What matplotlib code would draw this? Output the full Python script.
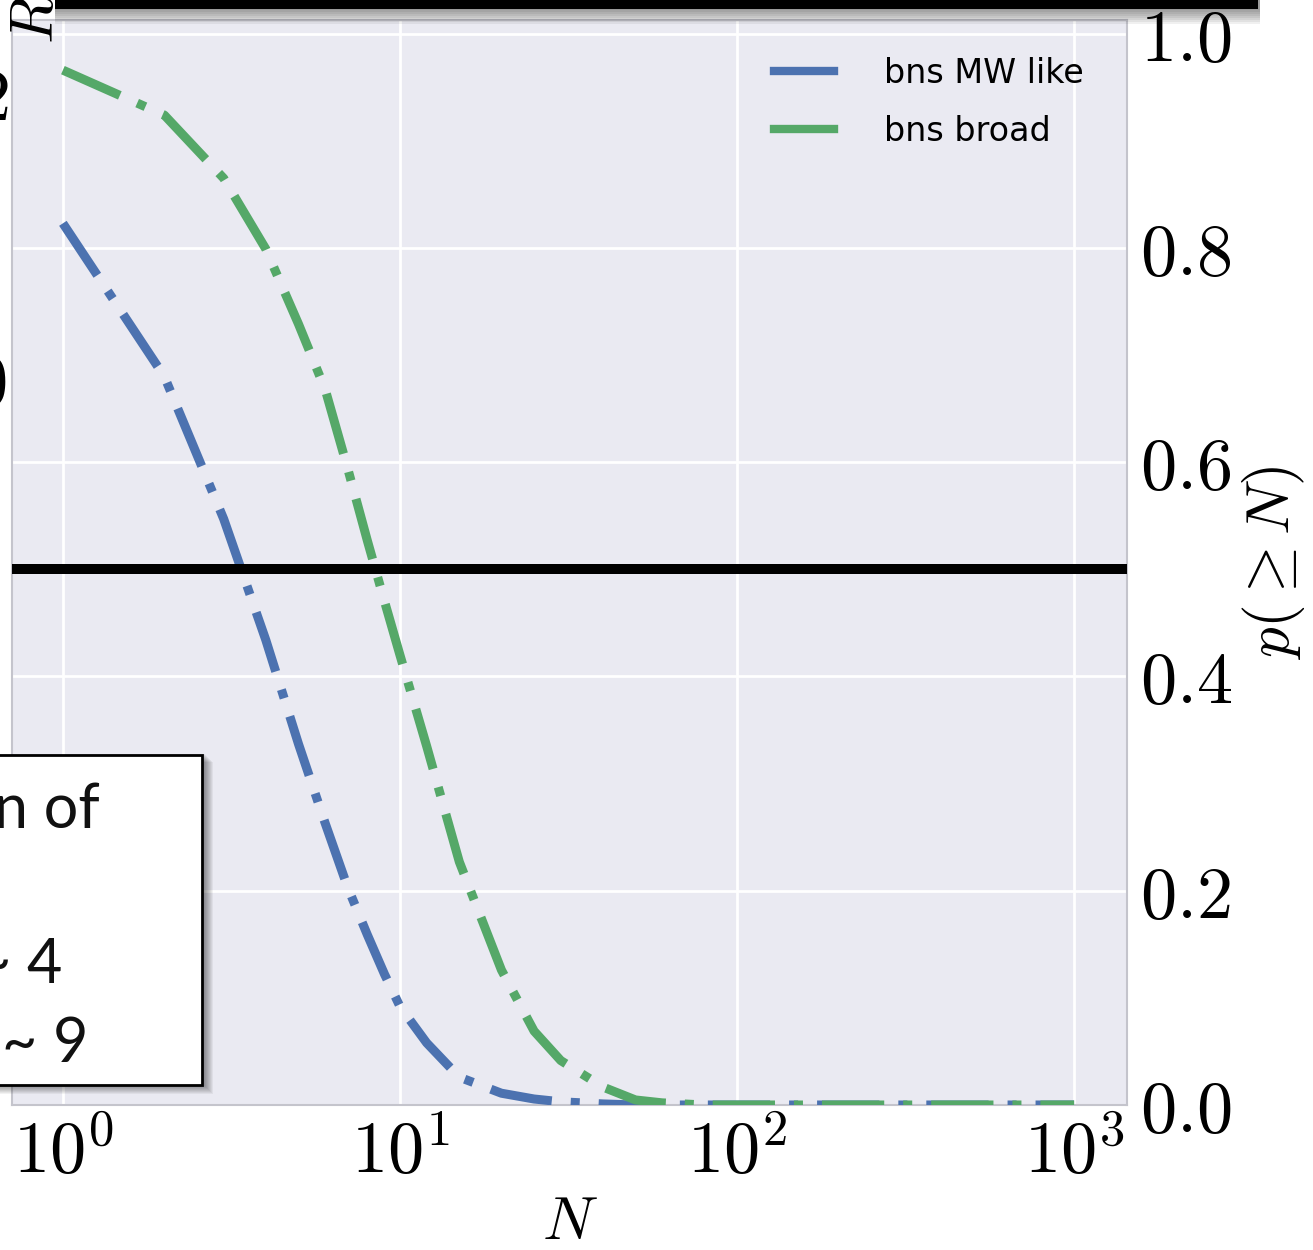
import numpy as np
import matplotlib
matplotlib.use("Agg")
import matplotlib.pyplot as plt
from matplotlib.lines import Line2D
from matplotlib.patches import Rectangle
from matplotlib.ticker import FuncFormatter, FixedLocator

plt.rcParams['mathtext.fontset'] = 'cm'

# values
n_values = [1, 2, 3, 4, 5, 6, 7, 8, 9, 10, 12, 15, 20, 25, 30, 40, 50, 60, 80, 100, 200, 500, 1000]
p_mw_like = [0.823, 0.680, 0.547, 0.434, 0.337, 0.263, 0.203, 0.159, 0.122, 0.092,
             0.058, 0.026, 0.011, 0.0056, 0.003, 0.001, 0.0, 0.0, 0.0, 0.0, 0.0, 0.0, 0.0]
p_broad = [0.966, 0.924, 0.865, 0.799, 0.729, 0.668, 0.594, 0.527, 0.470, 0.420,
           0.335, 0.227, 0.126, 0.069, 0.0415, 0.0168, 0.0047, 0.002, 0.0, 0.0, 0.0, 0.0, 0.0]
threshold = 0.5
labels = ['bns MW like', 'bns broad']
colors = ['#4C72B0', '#55A868']
x_ticks = [1, 10, 100, 1000]
y_ticks = [0.0, 0.2, 0.4, 0.6, 0.8, 1.0]

W, H = 1313, 1250
fig = plt.figure(figsize=(W / 100, H / 100), dpi=100)
ax = fig.add_axes([12 / W, 145 / H, 1115 / W, 1085 / H])
ax.set_facecolor('#EAEAF2')

dash = (6.9, 2.1, 1.0, 2.1)
for p, c in zip([p_mw_like, p_broad], colors):
    ax.plot(n_values, p, color=c, lw=6.5, dashes=dash, zorder=3)
ax.axhline(threshold, color='black', lw=7.2, zorder=4)

ax.set_xscale('log')
ax.set_xlim(10 ** -0.151, 10 ** 3.157)
ax.set_ylim(0, 1.0128)
ax.xaxis.set_major_locator(FixedLocator(x_ticks))
ax.xaxis.set_minor_locator(plt.NullLocator())
ax.xaxis.set_major_formatter(FuncFormatter(lambda v, pos: r'$10^{%d}$' % round(np.log10(v))))
ax.set_yticks(y_ticks)
ax.yaxis.set_major_formatter(FuncFormatter(lambda v, pos: r'$%.1f$' % v))
ax.yaxis.tick_right()
ax.yaxis.set_label_position('right')
ax.tick_params(axis='both', length=0, labelsize=52)
ax.tick_params(axis='y', pad=9)
ax.tick_params(axis='x', pad=10)
ax.grid(True, color='white', lw=2)
ax.set_axisbelow(True)
for s in ax.spines.values():
    s.set_color('#c4c4cc')
    s.set_linewidth(1.5)

ax.set_xlabel(r'$N$', fontsize=44, labelpad=4)
ax.set_ylabel(r'$p(\geq N)$', fontsize=44, labelpad=6)

handles = [Line2D([], [], color=c, lw=6) for c in colors]
ax.legend(handles, labels, loc='upper left', bbox_to_anchor=(0.6835, 0.966),
          frameon=False, fontsize=24, handlelength=1.8, handletextpad=1.5,
          labelspacing=0.75, borderpad=0, borderaxespad=0)

# slide decorations around the cropped chart
for i in range(8):
    fig.patches.append(Rectangle((55 / W, 1 - (10 + 2 * i) / H), 1205 / W, (10 + 2 * i) / H,
                                 transform=fig.transFigure, color='black',
                                 alpha=0.06, lw=0, zorder=5))
fig.patches.append(Rectangle((55 / W, 1 - 9 / H), 1203 / W, 9 / H, transform=fig.transFigure,
                             color='black', lw=0, zorder=6))
fig.text(36 / W, 1 + 4 / H, r'$R$', rotation=90, fontsize=44, ha='center', va='top')
fig.text(8 / W, 1 - 100 / H, r'$2$', fontsize=52, ha='right', va='center')
fig.text(6 / W, 1 - 385 / H, r'$0$', fontsize=52, ha='right', va='center')

bx0, bx1, by0, by1 = -10, 202, 755, 1085
for i in range(1, 10):
    fig.patches.append(Rectangle(((bx0 + i) / W, 1 - (by1 + i) / H), (bx1 - bx0 + 2) / W,
                                 (by1 - by0 + 2) / H, transform=fig.transFigure,
                                 color='black', alpha=0.05, lw=0, zorder=7))
fig.patches.append(Rectangle((bx0 / W, 1 - by1 / H), (bx1 - bx0) / W, (by1 - by0) / H,
                             transform=fig.transFigure, facecolor='white',
                             edgecolor='black', lw=2, zorder=8))
box_font = dict(family='Lato', weight='normal', fontsize=44, color='#111111', zorder=9)
fig.text(100 / W, 1 - 828 / H, 'n of', ha='right', va='baseline', **box_font)
fig.text(62 / W, 1 - 983 / H, '~ 4', ha='right', va='baseline', **box_font)
fig.text(88 / W, 1 - 1062 / H, '~ 9', ha='right', va='baseline', **box_font)

fig.savefig('out.png', dpi=100)
